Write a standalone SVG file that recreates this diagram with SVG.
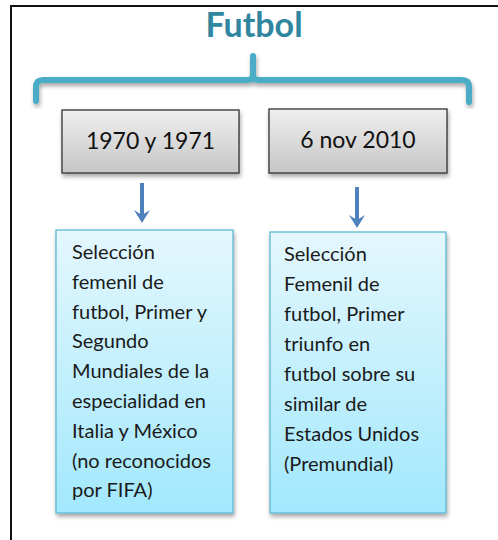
<svg xmlns="http://www.w3.org/2000/svg" width="498" height="540" viewBox="0 0 498 540">
<defs>
<linearGradient id="gray" x1="0" y1="0" x2="0" y2="1">
<stop offset="0" stop-color="#efefef"/><stop offset="1" stop-color="#c6c6c6"/>
</linearGradient>
<linearGradient id="blue" x1="0" y1="0" x2="0" y2="1">
<stop offset="0" stop-color="#e4f7fd"/><stop offset="1" stop-color="#a2e8fc"/>
</linearGradient>
<filter id="sh" x="-10%" y="-10%" width="125%" height="125%">
<feDropShadow dx="1" dy="3" stdDeviation="2" flood-color="#000" flood-opacity="0.35"/>
</filter>
<style>
.title{font-family:Lato,"Open Sans",sans-serif;font-weight:bold;font-size:34px;fill:#31869f}
.date{font-family:Lato,"Open Sans",sans-serif;font-size:23px;fill:#111}
.body{font-family:Lato,"Open Sans",sans-serif;font-size:20px;fill:#1a1a1a}
.gbox{fill:url(#gray);stroke:#333;stroke-width:1.3}
.bbox{fill:url(#blue);stroke:#5fb8d2;stroke-width:1.3}
.arrow{stroke:#4f81bd;stroke-width:4;fill:none}
.head{fill:#4f81bd}
</style>
</defs>
<rect x="0" y="0" width="498" height="540" fill="#fff"/>
<rect x="11" y="6" width="500" height="560" fill="none" stroke="#111" stroke-width="2"/>
<g id="title">
<text class="title" x="254" y="37" text-anchor="middle">Futbol</text>
<path d="M36,101 V87 Q36,80 43,80 H248 Q253,80 253,74 V56 M253,74 Q253,80 258,80 H462 Q469,80 469,87 V102" fill="none" stroke="#4bacc6" stroke-width="6" stroke-linecap="round" filter="url(#sh)"/>
</g>
<g id="node-1970">
<rect class="gbox" x="62" y="110" width="177" height="63" filter="url(#sh)"/>
<text class="date" x="150.5" y="149" text-anchor="middle">1970 y 1971</text>
</g>
<g id="node-2010">
<rect class="gbox" x="269" y="109" width="178" height="64" filter="url(#sh)"/>
<text class="date" x="358" y="148" text-anchor="middle">6 nov 2010</text>
</g>
<g id="connectors">
<line class="arrow" x1="142" y1="183" x2="142" y2="217"/>
<path class="head" d="M134,210 L142,223 L150,210 L142,215 Z"/>
<line class="arrow" x1="357" y1="187" x2="357" y2="222"/>
<path class="head" d="M349,215 L357,228 L365,215 L357,220 Z"/>
</g>
<g id="desc-1970">
<rect class="bbox" x="56" y="230" width="177" height="283" filter="url(#sh)"/>
<text class="body">
<tspan x="72" y="259">Selección</tspan>
<tspan x="72" y="289">femenil de</tspan>
<tspan x="72" y="319">futbol, Primer y</tspan>
<tspan x="72" y="348">Segundo</tspan>
<tspan x="72" y="378">Mundiales de la</tspan>
<tspan x="72" y="408">especialidad en</tspan>
<tspan x="72" y="438">Italia y México</tspan>
<tspan x="72" y="468">(no reconocidos</tspan>
<tspan x="72" y="497">por FIFA)</tspan>
</text>
</g>
<g id="desc-2010">
<rect class="bbox" x="270" y="232" width="176" height="281" filter="url(#sh)"/>
<text class="body">
<tspan x="284" y="261">Selección</tspan>
<tspan x="284" y="291">Femenil de</tspan>
<tspan x="284" y="321">futbol, Primer</tspan>
<tspan x="284" y="351">triunfo en</tspan>
<tspan x="284" y="381">futbol sobre su</tspan>
<tspan x="284" y="411">similar de</tspan>
<tspan x="284" y="441">Estados Unidos</tspan>
<tspan x="284" y="471">(Premundial)</tspan>
</text>
</g>
</svg>
